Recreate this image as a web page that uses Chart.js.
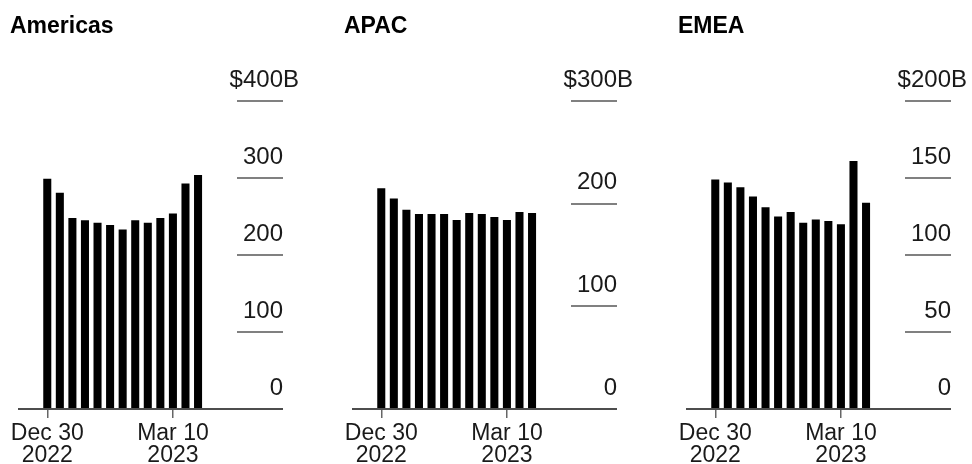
<!DOCTYPE html>
<html>
<head>
<meta charset="utf-8">
<title>Weekly totals by region</title>
<script src="https://cdn.jsdelivr.net/npm/chart.js@4.4.0/dist/chart.umd.min.js"></script>
<style>
  body { margin: 0; background: #fff; width: 972px; height: 464px; overflow: hidden; position: relative;
         font-family: 'Liberation Sans', Arial, sans-serif; }
  .panel { position: absolute; top: 0; width: 304px; height: 464px; }
  .panel h2 { position: absolute; left: 10px; top: 14px; margin: 0; font-size: 23px; line-height: 23px;
              font-weight: bold; color: #000; z-index: 1; }
  canvas { position: absolute; left: 0; top: 0; }
</style>
</head>
<body>
<div class="panel" style="left:0px"><h2>Americas</h2><canvas id="chartAmericas" width="304" height="464"></canvas></div>
<div class="panel" style="left:334px"><h2>APAC</h2><canvas id="chartApac" width="304" height="464"></canvas></div>
<div class="panel" style="left:668px"><h2>EMEA</h2><canvas id="chartEmea" width="304" height="464"></canvas></div>

<script>
// ---- data ----
const weeks = ['Dec 30 2022', 'Jan 6', 'Jan 13', 'Jan 20', 'Jan 27', 'Feb 3', 'Feb 10',
               'Feb 17', 'Feb 24', 'Mar 3', 'Mar 10', 'Mar 17', 'Mar 24'];
const xTickIdx = [0, 10];
const xTickLabels = [['Dec 30', '2022'], ['Mar 10', '2023']];

const americas = [299, 281, 248, 245, 242, 239, 233, 245, 242, 248, 254, 293, 304];
const apac     = [215, 205, 194, 190, 190, 190, 184, 191, 190, 187, 184, 192, 191];
const emea     = [149, 147, 144, 138, 131, 125, 128, 121, 123, 122, 120, 161, 134];

const americasTicks = [0, 100, 200, 300, 400];
const apacTicks     = [0, 100, 200, 300];
const emeaTicks     = [0, 50, 100, 150, 200];

const FONT = "'Liberation Sans', Arial, sans-serif";
const BASE = '#4d4d4d';

// labels sit above the short tick lines, top one gets "$...B"
const yLabels = {
    id: 'yLabels',
    afterDraw(chart) {
        const s = chart.scales.y;
        const ctx = chart.ctx;
        const x = s.left + s.options.grid.tickLength;
        ctx.save();
        ctx.font = '24px ' + FONT;
        ctx.fillStyle = '#1a1a1a';
        ctx.textBaseline = 'middle';
        s.ticks.forEach((t, i) => {
            const y = s.getPixelForValue(t.value) - 21;
            const isTop = i === s.ticks.length - 1;
            ctx.textAlign = 'right';
            ctx.fillText(isTop ? '$' + t.value : String(t.value), x, y);
            if (isTop) {
                ctx.textAlign = 'left';
                ctx.fillText('B', x, y);
            }
        });
        ctx.restore();
    }
};

function makeChart(id, values, yTicks) {
    new Chart(document.getElementById(id), {
        type: 'bar',
        data: {
            labels: weeks,
            datasets: [{
                data: values.map((v, i) => ({ x: i, y: v })),
                backgroundColor: '#000',
                borderWidth: 0,
                barPercentage: 0.64,
                categoryPercentage: 1
            }]
        },
        options: {
            responsive: false,
            animation: false,
            layout: { autoPadding: false, padding: { left: 19, right: 21, top: 101, bottom: 0 } },
            plugins: { legend: { display: false }, tooltip: { enabled: false }, title: { display: false } },
            scales: {
                x: {
                    type: 'linear',
                    offset: false,
                    min: -2.25,
                    max: 15.1,
                    afterBuildTicks: s => { s.ticks = xTickIdx.map(v => ({ value: v })); },
                    afterFit: s => { s.height = 55; },
                    grid: { display: true, drawOnChartArea: false, drawTicks: true, tickLength: 9,
                            color: '#666', lineWidth: 1.5, offset: false },
                    border: { display: true, color: BASE, width: 2 },
                    ticks: {
                        autoSkip: false,
                        maxRotation: 0,
                        padding: 5,
                        color: '#1a1a1a',
                        font: { family: FONT, size: 23, lineHeight: 0.96 },
                        callback: v => xTickLabels[xTickIdx.indexOf(v)]
                    }
                },
                y: {
                    position: 'right',
                    min: 0,
                    max: yTicks[yTicks.length - 1],
                    afterBuildTicks: s => { s.ticks = yTicks.map(v => ({ value: v })); },
                    grid: { drawOnChartArea: false, drawTicks: true, tickLength: 46, lineWidth: 2,
                            color: c => (c.tick && c.tick.value === 0) ? BASE : '#808080' },
                    border: { display: false },
                    ticks: { display: false }
                }
            }
        },
        plugins: [yLabels]
    });
}

makeChart('chartAmericas', americas, americasTicks);
makeChart('chartApac', apac, apacTicks);
makeChart('chartEmea', emea, emeaTicks);
</script>
</body>
</html>
